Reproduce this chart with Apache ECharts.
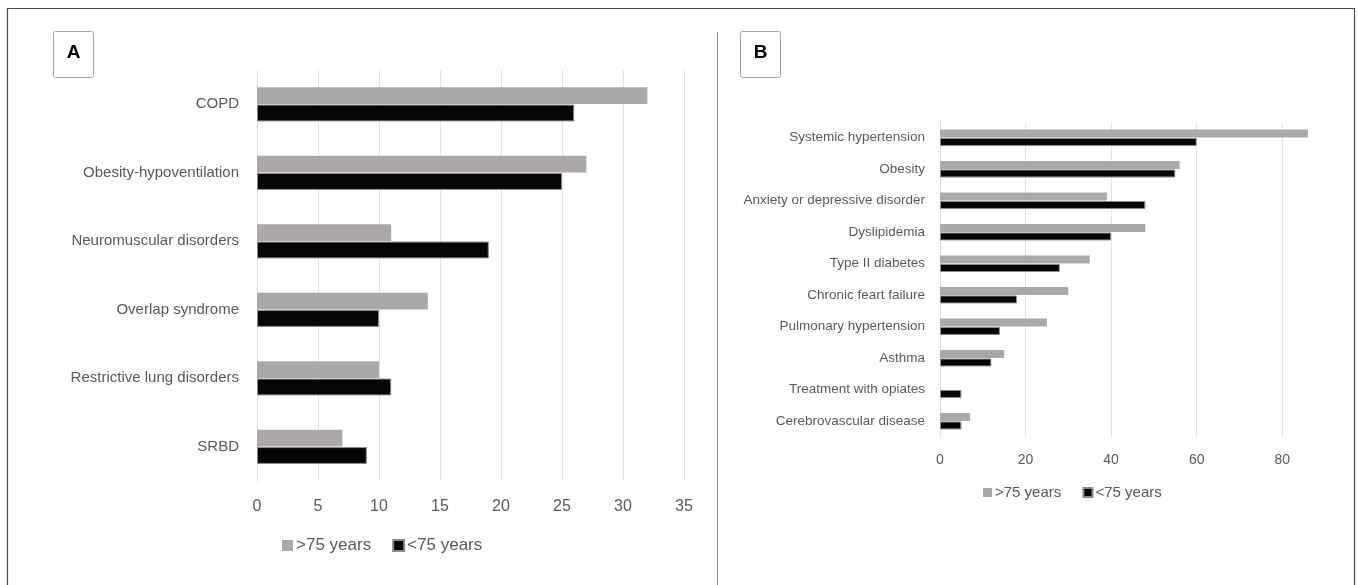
<!DOCTYPE html>
<html>
<head>
<meta charset="utf-8">
<script src="https://cdn.jsdelivr.net/npm/echarts@6/dist/echarts.min.js"></script>
<style>
  html, body { margin: 0; padding: 0; background: #ffffff; }
  #chart { width: 1358px; height: 585px; }
</style>
</head>
<body>
<div id="chart"></div>
<script>
// Panel A: primary indication for home ventilation, by age group
const conditionsA = ['COPD', 'Obesity-hypoventilation', 'Neuromuscular disorders', 'Overlap syndrome', 'Restrictive lung disorders', 'SRBD'];
const olderA = [32, 27, 11, 14, 10, 7];
const youngerA = [26, 25, 19, 10, 11, 9];
const ticksA = [0, 5, 10, 15, 20, 25, 30, 35];

// Panel B: comorbidities, by age group
const conditionsB = ['Systemic hypertension', 'Obesity', 'Anxiety or depressive disorder', 'Dyslipidemia', 'Type II diabetes', 'Chronic feart failure', 'Pulmonary hypertension', 'Asthma', 'Treatment with opiates', 'Cerebrovascular disease'];
const olderB = [86, 56, 39, 48, 35, 30, 25, 15, 0, 7];
const youngerB = [60, 55, 48, 40, 28, 18, 14, 12, 5, 5];
const ticksB = [0, 20, 40, 60, 80];

const groupNames = ['>75 years', '<75 years'];

const FONT = "'Liberation Sans', Arial, sans-serif";
const TEXT = '#595959';
const GREY_BAR = '#aca7a8';
const BLACK_BAR = '#050505';

const chart = echarts.init(document.getElementById('chart'), null, { renderer: 'canvas' });

function valueAxis(gridIndex, ticks, max, fontSize, margin) {
  const lastTick = ticks[ticks.length - 1];
  return {
    type: 'value',
    gridIndex: gridIndex,
    min: ticks[0],
    max: max,
    interval: ticks[1] - ticks[0],
    axisLine: { show: false },
    axisTick: { show: false },
    splitLine: { show: true, showMaxLine: lastTick === max, lineStyle: { color: '#e3e3e3', width: 1 } },
    axisLabel: {
      color: TEXT, fontFamily: FONT, fontSize: fontSize, margin: margin,
      showMaxLabel: lastTick === max
    }
  };
}

function categoryAxis(gridIndex, cats, fontSize, margin) {
  return {
    type: 'category',
    gridIndex: gridIndex,
    data: cats,
    inverse: true,
    axisLine: { show: true, lineStyle: { color: '#d9d9d9', width: 1 } },
    axisTick: { show: false },
    axisLabel: { color: TEXT, fontFamily: FONT, fontSize: fontSize, margin: margin }
  };
}

function barSeries(name, idx, data, color, border, gap, catGap) {
  return {
    name: name,
    type: 'bar',
    xAxisIndex: idx,
    yAxisIndex: idx,
    data: data,
    barGap: gap,
    barCategoryGap: catGap,
    itemStyle: { color: color, borderColor: border, borderWidth: border ? 1 : 0 },
    emphasis: { disabled: true }
  };
}

function panelBox(x, y, letter) {
  return {
    type: 'group',
    left: x, top: y,
    children: [
      { type: 'rect', shape: { x: 0, y: 0, width: 40, height: 46, r: 2 },
        style: { fill: '#ffffff', stroke: '#a6a6a6', lineWidth: 1 } },
      { type: 'text', style: { x: 20, y: 21, text: letter, fill: '#000000',
        font: "bold 19px " + FONT, textAlign: 'center', textVerticalAlign: 'middle' } }
    ]
  };
}

const option = {
  backgroundColor: '#ffffff',
  animation: false,
  grid: [
    { left: 257, right: 1358 - 684, top: 70, bottom: 585 - 481, containLabel: false },
    { left: 940, right: 1358 - 1325, top: 122, bottom: 585 - 437, containLabel: false }
  ],
  xAxis: [
    valueAxis(0, ticksA, 35, 16, 18),
    valueAxis(1, ticksB, 90, 14, 16)
  ],
  yAxis: [
    categoryAxis(0, conditionsA, 15, 18),
    categoryAxis(1, conditionsB, 13.5, 15)
  ],
  legend: [
    { data: groupNames, left: 277, top: 532, itemWidth: 11, itemHeight: 11, itemGap: 21,
      icon: 'rect', selectedMode: false,
      textStyle: { color: TEXT, fontFamily: FONT, fontSize: 17, padding: [0, 0, 0, -2] } },
    { data: groupNames.map(n => n + ' '), left: 978, top: 480, itemWidth: 9, itemHeight: 9, itemGap: 17,
      icon: 'rect', selectedMode: false,
      textStyle: { color: TEXT, fontFamily: FONT, fontSize: 15, padding: [0, 0, 0, -2] } }
  ],
  series: [
    barSeries(groupNames[0], 0, olderA, GREY_BAR, null, '4%', '50%'),
    barSeries(groupNames[1], 0, youngerA, BLACK_BAR, '#8a8a8a', '4%', '50%'),
    barSeries(groupNames[0] + ' ', 1, olderB, GREY_BAR, null, '6%', '48%'),
    barSeries(groupNames[1] + ' ', 1, youngerB, BLACK_BAR, '#8a8a8a', '6%', '48%')
  ],
  graphic: [
    { type: 'rect', shape: { x: 7.5, y: 8.5, width: 1347, height: 600 },
      style: { fill: 'none', stroke: '#4a4a4a', lineWidth: 1.2 }, silent: true },
    { type: 'line', shape: { x1: 717.5, y1: 32, x2: 717.5, y2: 600 },
      style: { stroke: '#8c8c8c', lineWidth: 1 }, silent: true },
    panelBox(53, 31, 'A'),
    panelBox(740, 31, 'B')
  ]
};

chart.setOption(option);
</script>
</body>
</html>
